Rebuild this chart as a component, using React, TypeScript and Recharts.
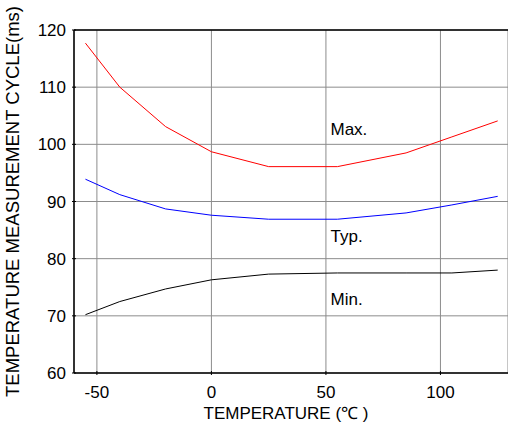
import { LineChart, Line, XAxis, YAxis, CartesianGrid, ReferenceLine, ReferenceDot } from "recharts";

// temperature (°C) at each measured point
const temps = [-55, -40, -20, 0, 25, 55, 85, 105, 125];
// measurement cycle (ms)
const maxCycle = [117.7, 110, 103.1, 98.7, 96.1, 96.1, 98.5, 101.3, 104.1];
const typCycle = [93.9, 91.2, 88.7, 87.6, 86.9, 86.9, 88.0, 89.4, 90.9];
const minCycle = [70.2, 72.5, 74.7, 76.3, 77.3, 77.5, 77.5, 77.5, 78.0];

const xTicks = [-50, 0, 50, 100];
const yTicks = [60, 70, 80, 90, 100, 110, 120];

// curve names written inside the plot
const curveLabels = [
  { text: "Max.", x: 52, y: 102.7 },
  { text: "Typ.", x: 52, y: 83.9 },
  { text: "Min.", x: 52, y: 73.0 },
];

const data = temps.map((t, i) => ({
  t,
  max: maxCycle[i],
  typ: typCycle[i],
  min: minCycle[i],
}));

const FONT = "'Liberation Sans', Arial, sans-serif";

function XTick(props: any) {
  const { x, y, payload } = props;
  return (
    <g>
      <line x1={x} x2={x} y1={y} y2={y - 4} stroke="#000" />
      <text x={x} y={y + 23} textAnchor="middle" fontSize={17} fontFamily={FONT} fill="#000">
        {payload.value}
      </text>
    </g>
  );
}

function YTick(props: any) {
  const { x, y, payload } = props;
  return (
    <g>
      <line x1={x} x2={x + 4} y1={y} y2={y} stroke="#000" />
      <text x={x - 6} y={y + 6} textAnchor="end" fontSize={17} fontFamily={FONT} fill="#000">
        {payload.value}
      </text>
    </g>
  );
}

export default function App() {
  return (
    <div style={{ position: "absolute", left: 0, top: 0, width: 508, height: 425, overflow: "hidden", background: "#fff" }}>
      <LineChart
        width={508}
        height={425}
        data={data}
        margin={{ top: 30, right: 0, bottom: 0, left: 0 }}
      >
        <CartesianGrid stroke="#8c8c8c" strokeWidth={1} />
        <XAxis
          dataKey="t"
          type="number"
          domain={[-60, 129.5]}
          ticks={xTicks}
          allowDataOverflow
          tickSize={0}
          tick={<XTick />}
          axisLine={{ stroke: "#000", strokeWidth: 1.5 }}
          height={52}
          label={{ value: "TEMPERATURE (℃ )", position: "insideBottom", offset: 6, dx: -5, fontSize: 17, fontFamily: FONT, fill: "#000" }}
        />
        <YAxis
          type="number"
          domain={[60, 120]}
          ticks={yTicks}
          tickSize={0}
          tick={<YTick />}
          width={74}
          axisLine={{ stroke: "#000", strokeWidth: 1.5 }}
          label={{
            value: "TEMPERATURE MEASUREMENT CYCLE(ms)",
            angle: -90,
            position: "insideLeft",
            offset: 0,
            dx: 12,
            fontSize: 18.5,
            fontFamily: FONT,
            fill: "#000",
            style: { textAnchor: "middle" },
          }}
        />
        <ReferenceLine y={120} stroke="#000" strokeWidth={1.5} />
        <Line dataKey="max" stroke="#ff0000" strokeWidth={1} dot={false} isAnimationActive={false} />
        <Line dataKey="typ" stroke="#0000ff" strokeWidth={1} dot={false} isAnimationActive={false} />
        <Line dataKey="min" stroke="#000000" strokeWidth={1} dot={false} isAnimationActive={false} />
        {curveLabels.map((l) => (
          <ReferenceDot
            key={l.text}
            x={l.x}
            y={l.y}
            r={0}
            fill="none"
            stroke="none"
            label={(p: any) => (
              <text x={p.viewBox.x} y={p.viewBox.y + 6} textAnchor="start" fontSize={17} fontFamily={FONT} fill="#000">
                {l.text}
              </text>
            )}
          />
        ))}
      </LineChart>
    </div>
  );
}
